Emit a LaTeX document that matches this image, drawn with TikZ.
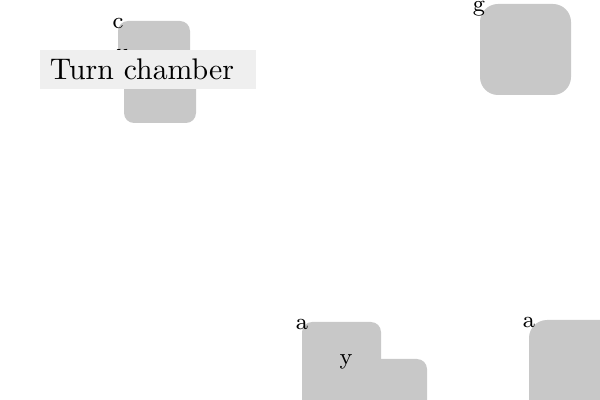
\documentclass[tikz,border=0pt]{standalone}
\usepackage{tikz}
\definecolor{blockgray}{HTML}{C8C8C8}
\definecolor{captiongray}{HTML}{EFEFEF}

\begin{document}
\begin{tikzpicture}[x=0.025cm, y=-0.025cm,
        block/.style={fill=blockgray, draw=none, rounded corners=0.25cm},
        bigblock/.style={fill=blockgray, draw=none, rounded corners=0.45cm},
        tag/.style={font=\footnotesize, inner sep=0pt, scale=2.04}]
        \useasboundingbox (0,0) rectangle (600,400);
        % gray blocks
        \draw[block] (118,21) rectangle (190,75);
        \draw[block] (124,65) rectangle (196,123);
        \draw[bigblock] (480,4) rectangle (571,95);
        \draw[block] (302,322) rectangle (381,440);
        \draw[block] (360,359) rectangle (427,440);
        \draw[bigblock] (529,320) rectangle (640,440);
        % letters
        \node[tag] (tagc) at (118,23) {c};
        \node[tag] (tagu) at (123,55) {u};
        \node[tag] (tagg) at (479,8.5) {g};
        \node[tag] (taga) at (302,324) {a};
        \node[tag] (tagb) at (529,322) {a};
        \node[tag] (tagy) at (346,362) {y};
        % caption box on top
        \node[fill=captiongray, scale=2.12, minimum width=2.547cm, minimum height=0.46cm, inner xsep=0.118cm, inner ysep=0pt,
              text width=2.311cm, align=left] (turn) at (148,69.5) {Turn chamber};
\end{tikzpicture}
\end{document}
